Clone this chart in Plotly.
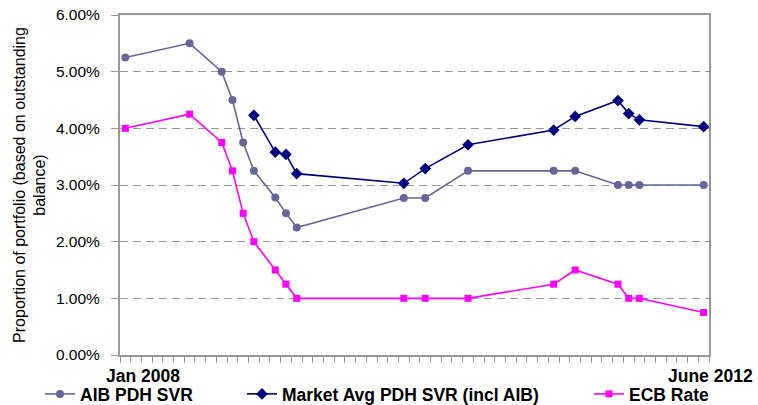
import plotly.graph_objects as go

# Months are counted from January 2008 (0 = Jan 2008)
aib_months = [0, 6, 9, 10, 11, 12, 14, 15, 16, 26, 28, 32, 40, 42, 46, 47, 48, 54]
aib_rates = [5.25, 5.50, 5.00, 4.50, 3.75, 3.25, 2.78, 2.50, 2.25, 2.77, 2.77, 3.25, 3.25, 3.25, 3.00, 3.00, 3.00, 3.00]

mkt_months = [12, 14, 15, 16, 26, 28, 32, 40, 42, 46, 47, 48, 54]
mkt_rates = [4.23, 3.58, 3.54, 3.20, 3.03, 3.29, 3.71, 3.97, 4.21, 4.49, 4.26, 4.15, 4.03]

ecb_months = [0, 6, 9, 10, 11, 12, 14, 15, 16, 26, 28, 32, 40, 42, 46, 47, 48, 54]
ecb_rates = [4.00, 4.25, 3.75, 3.25, 2.50, 2.00, 1.50, 1.25, 1.00, 1.00, 1.00, 1.00, 1.25, 1.50, 1.25, 1.00, 1.00, 0.75]

n_categories = 55
x_labels = ["Jan 2008", "June 2012"]
y_ticks = [0, 1, 2, 3, 4, 5, 6]
y_ticktext = ["%.2f%%" % v for v in y_ticks]

names = ["AIB PDH SVR", "Market Avg PDH SVR (incl AIB)", "ECB Rate"]

FONT = "Liberation Sans, Arial, sans-serif"
W, H = 758, 405

fig = go.Figure()
fig.add_trace(go.Scatter(
    x=aib_months, y=aib_rates, name=names[0], mode="lines+markers",
    line=dict(color="#666699", width=1.6),
    marker=dict(symbol="circle", size=8, color="#666699"),
    legend="legend",
))
fig.add_trace(go.Scatter(
    x=mkt_months, y=mkt_rates, name=names[1], mode="lines+markers",
    line=dict(color="#000080", width=1.6),
    marker=dict(symbol="diamond", size=9, color="#000080"),
    legend="legend2",
))
fig.add_trace(go.Scatter(
    x=ecb_months, y=ecb_rates, name=names[2], mode="lines+markers",
    line=dict(color="#FF00FF", width=1.6),
    marker=dict(symbol="square", size=7, color="#FF00FF"),
    legend="legend3",
))

tick_bounds = [i - 0.5 for i in range(n_categories + 1)]

legend_common = dict(
    orientation="h", xref="container", yref="container",
    yanchor="middle", y=(H - 394) / H,
    font=dict(family=FONT, size=17.5, color="#000000", weight="bold"),
    bgcolor="rgba(0,0,0,0)", borderwidth=0,
    itemwidth=30,
)

fig.update_layout(
    width=W, height=H,
    margin=dict(l=120, r=49, t=15, b=50, autoexpand=False),
    paper_bgcolor="white", plot_bgcolor="white",
    font=dict(family=FONT, size=15.5, color="#000000"),
    showlegend=True,
    legend=dict(x=40 / W, **legend_common),
    legend2=dict(x=242 / W, **legend_common),
    legend3=dict(x=589 / W, **legend_common),
    xaxis=dict(
        range=[-0.5, n_categories - 0.5], automargin=False,
        tickmode="array", tickvals=tick_bounds, showticklabels=False,
        ticks="outside", ticklen=6, tickcolor="#999999", tickwidth=1,
        showgrid=False, zeroline=False,
        showline=True, linecolor="#999999", linewidth=2, mirror=True,
    ),
    yaxis=dict(
        range=[0, 6], automargin=False,
        tickmode="array", tickvals=y_ticks, ticktext=y_ticktext,
        ticks="outside", ticklen=7, tickcolor="#999999", tickwidth=1,
        tickfont=dict(family=FONT, size=15.5, color="#000000"),
        ticklabelstandoff=8, ticklabeloverflow="allow",
        showgrid=True, gridcolor="#999999", gridwidth=1, griddash="8px,5px",
        zeroline=False,
        showline=True, linecolor="#999999", linewidth=2, mirror=True,
        title=dict(
            text="Proportion of portfolio (based on outstanding<br>balance)",
            font=dict(family=FONT, size=16, color="#000000"),
            standoff=6,
        ),
    ),
    annotations=[
        dict(text=x_labels[0], xref="x", yref="paper", x=0, y=0,
             xanchor="left", yanchor="top", xshift=-21, yshift=-9,
             showarrow=False, font=dict(family=FONT, size=17.5, color="#000000", weight="bold")),
        dict(text=x_labels[1], xref="x", yref="paper", x=n_categories - 1, y=0,
             xanchor="right", yanchor="top", xshift=51, yshift=-9,
             showarrow=False, font=dict(family=FONT, size=17.5, color="#000000", weight="bold")),
    ],
)

# Remove the default 8px page margin so the figure fills the window exactly
fig.write_html(
    "out.html",
    config={"displayModeBar": False},
    post_script="document.body.style.margin='0';",
)
